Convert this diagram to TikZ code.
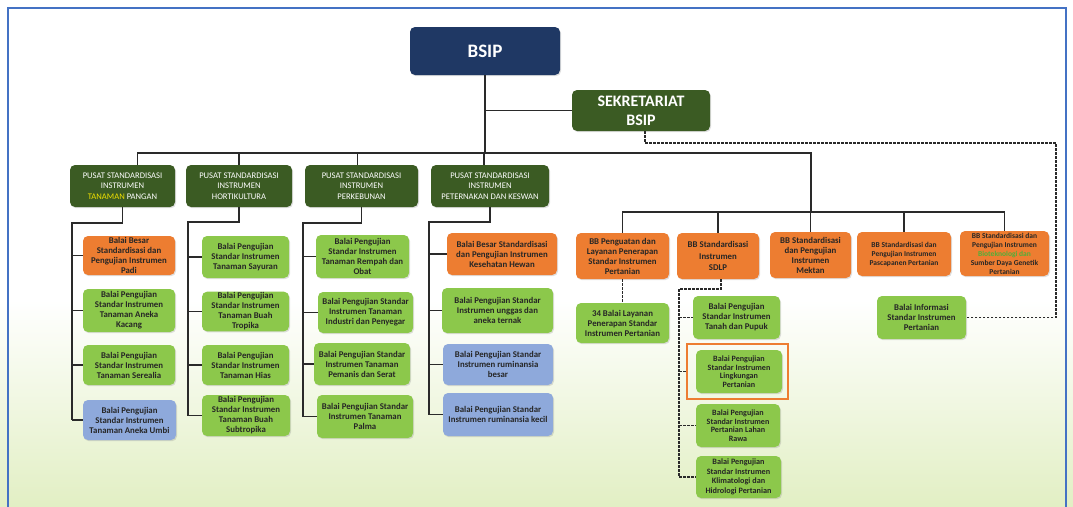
\documentclass[tikz,border=0pt]{standalone}
\usepackage{fontspec}
\setmainfont{Carlito}
\usetikzlibrary{shadows}
\definecolor{navy}{HTML}{1F3864}
\definecolor{dkgreen}{HTML}{3B5B23}
\definecolor{orng}{HTML}{ED7D31}
\definecolor{lgreen}{HTML}{8CC84B}
\definecolor{lblue}{HTML}{8EA9DB}
\definecolor{tyellow}{HTML}{F0E000}
\definecolor{tgreen}{HTML}{4FAF3A}
\definecolor{framecol}{HTML}{4472C4}
\definecolor{bgg}{HTML}{E2EFC4}
\definecolor{linecol}{HTML}{2A2A2A}
\begin{document}
\begin{tikzpicture}[x=1pt,y=-1pt,
  box/.style={rounded corners=5pt, align=center, inner sep=1pt,
    drop shadow={opacity=0.25,shadow xshift=1pt,shadow yshift=-1.2pt}},
  topbox/.style={box, fill=navy, text=white, font=\fontsize{19}{22}\selectfont\bfseries},
  sekbox/.style={box, fill=dkgreen, text=white, font=\fontsize{16}{19}\selectfont\bfseries},
  pusat/.style={box, fill=dkgreen, text=white, font=\fontsize{8.6}{10.5}\selectfont},
  child/.style={box, fill=lgreen, text=black!85, font=\fontsize{8.8}{10}\selectfont\bfseries},
  childo/.style={child, fill=orng},
  childb/.style={child, fill=lblue},
  smallt/.style={font=\fontsize{7.5}{9}\selectfont\bfseries},
  tightt/.style={font=\fontsize{8.1}{8.6}\selectfont\bfseries},
  conn/.style={draw=linecol, line width=1.2pt},
  dconn/.style={draw=linecol, line width=1.2pt, dash pattern=on 2.5pt off 1.5pt},
  frame/.style={draw=framecol, line width=1.5pt},
  highlight/.style={draw=orng, line width=2.6pt}
]
\useasboundingbox (0,0) rectangle (1073,506);
\fill[white] (0,0) rectangle (1073,506);
\shade[top color=white, bottom color=bgg] (0,300) rectangle (1073,506);
\draw[frame] (8,510) -- (8,8) -- (1066,8) -- (1066,510);

% top level
\node[topbox, minimum width=150pt, minimum height=48pt] (bsip) at (485,51) {BSIP};
\node[sekbox, minimum width=138pt, minimum height=41pt] (sekr) at (641,110.5) {SEKRETARIAT\\BSIP};

% pusat boxes
\node[pusat, minimum width=105pt, minimum height=42pt] (p1) at (122.5,186) {PUSAT STANDARDISASI\\INSTRUMEN\\{\color{tyellow}TANAMAN} PANGAN};
\node[pusat, minimum width=106pt, minimum height=42pt] (p2) at (239,186) {PUSAT STANDARDISASI\\INSTRUMEN\\HORTIKULTURA};
\node[pusat, minimum width=113pt, minimum height=42pt] (p3) at (361.5,186) {PUSAT STANDARDISASI\\INSTRUMEN\\PERKEBUNAN};
\node[pusat, minimum width=118pt, minimum height=42pt] (p4) at (490,186) {PUSAT STANDARDISASI\\INSTRUMEN\\PETERNAKAN DAN KESWAN};

% children of p1
\node[childo, minimum width=92pt, minimum height=39pt] (c11) at (129,255.5) {Balai Besar\\Standardisasi dan\\Pengujian Instrumen\\Padi};
\node[child, minimum width=92pt, minimum height=43pt] (c12) at (129,310.5) {Balai Pengujian\\Standar Instrumen\\Tanaman Aneka\\Kacang};
\node[child, minimum width=92pt, minimum height=40pt] (c13) at (129,365) {Balai Pengujian\\Standar Instrumen\\Tanaman Serealia};
\node[childb, minimum width=93pt, minimum height=40pt] (c14) at (129.5,420) {Balai Pengujian\\Standar Instrumen\\Tanaman Aneka Umbi};

% children of p2
\node[child, minimum width=87pt, minimum height=42pt] (c21) at (245.5,257) {Balai Pengujian\\Standar Instrumen\\Tanaman Sayuran};
\node[child, minimum width=87pt, minimum height=39pt] (c22) at (245.5,311.5) {Balai Pengujian\\Standar Instrumen\\Tanaman Buah\\Tropika};
\node[child, minimum width=87pt, minimum height=40pt] (c23) at (245.5,365) {Balai Pengujian\\Standar Instrumen\\Tanaman Hias};
\node[child, minimum width=88pt, minimum height=41pt] (c24) at (246,415.5) {Balai Pengujian\\Standar Instrumen\\Tanaman Buah\\Subtropika};

% children of p3
\node[child, minimum width=93pt, minimum height=43pt] (c31) at (362.5,256.5) {Balai Pengujian\\Standar Instrumen\\Tanaman Rempah dan\\Obat};
\node[child, minimum width=95pt, minimum height=41pt] (c32) at (365.5,312.5) {Balai Pengujian Standar\\Instrumen Tanaman\\Industri dan Penyegar};
\node[child, minimum width=96pt, minimum height=42pt] (c33) at (362,364) {Balai Pengujian Standar\\Instrumen Tanaman\\Pemanis dan Serat};
\node[child, minimum width=96pt, minimum height=43pt] (c34) at (365,416.5) {Balai Pengujian Standar\\Instrumen Tanaman\\Palma};

% children of p4
\node[childo, minimum width=110pt, minimum height=42pt] (c41) at (502,254) {Balai Besar Standardisasi\\dan Pengujian Instrumen\\Kesehatan Hewan};
\node[child, minimum width=111pt, minimum height=45pt] (c42) at (497.5,310.5) {Balai Pengujian Standar\\Instrumen unggas dan\\aneka ternak};
\node[childb, minimum width=110pt, minimum height=41pt] (c43) at (498,364.5) {Balai Pengujian Standar\\Instrumen ruminansia\\besar};
\node[childb, minimum width=110pt, minimum height=43pt] (c44) at (498,414.5) {Balai Pengujian Standar\\Instrumen ruminansia kecil};

% right orange boxes
\node[childo, minimum width=93pt, minimum height=46pt] (o1) at (622.5,256) {BB Penguatan dan\\Layanan Penerapan\\Standar Instrumen\\Pertanian};
\node[childo, minimum width=82pt, minimum height=46pt, font=\fontsize{8.8}{11.5}\selectfont\bfseries] (o2) at (718,256) {BB Standardisasi\\Instrumen\\SDLP};
\node[childo, minimum width=81pt, minimum height=46pt] (o3) at (810.5,255) {BB Standardisasi\\dan Pengujian\\Instrumen\\Mektan};
\node[childo, smallt, minimum width=94pt, minimum height=44pt] (o4) at (904,254) {BB Standardisasi dan\\Pengujian Instrumen\\Pascapanen Pertanian};
\node[childo, smallt, minimum width=89pt, minimum height=45pt] (o5) at (1004.5,253.5) {BB Standardisasi dan\\Pengujian Instrumen\\{\color{tgreen}Bioteknologi dan}\\Sumber Daya Genetik\\Pertanian};

% right children
\node[child, minimum width=93pt, minimum height=40pt] (g1) at (622.5,323) {34 Balai Layanan\\Penerapan Standar\\Instrumen Pertanian};
\node[child, minimum width=87pt, minimum height=43pt] (s1) at (736.5,317.5) {Balai Pengujian\\Standar Instrumen\\Tanah dan Pupuk};
\node[child, tightt, minimum width=86pt, minimum height=43pt] (s2) at (739,371.5) {Balai Pengujian\\Standar Instrumen\\Lingkungan\\Pertanian};
\node[child, tightt, minimum width=84pt, minimum height=43pt] (s3) at (738,425.5) {Balai Pengujian\\Standar Instrumen\\Pertanian Lahan\\Rawa};
\node[child, font=\fontsize{8.2}{9.5}\selectfont\bfseries, minimum width=85pt, minimum height=42pt] (s4) at (738.5,477) {Balai Pengujian\\Standar Instrumen\\Klimatologi dan\\Hidrologi Pertanian};
\node[child, minimum width=89pt, minimum height=43pt] (bi) at (921.5,317.5) {Balai Informasi\\Standar Instrumen\\Pertanian};

% highlight frame around s2
\node[highlight, minimum width=101pt, minimum height=55pt, inner sep=0pt] (hl) at (737.5,371.5) {};

% coordinates for buses and spines
\coordinate (hub) at (811,153);
\coordinate (bus2) at (0,212);
\coordinate (sp1) at (72,223);
\coordinate (sp2) at (188,222);
\coordinate (sp3) at (303,223);
\coordinate (sp4) at (429,222);
\coordinate (sd) at (679,289);
\coordinate (dtop) at (0,143);
\coordinate (dright) at (1056,0);

% solid connectors top
\draw[conn] (bsip.south) -- (bsip.south |- hub);
\draw[conn] (bsip.south |- sekr.west) -- (sekr.west);
\draw[conn] ([xshift=15pt]p1.north) -- ([xshift=15pt]p1.north |- hub) -- (hub) -- (hub |- bus2);
\draw[conn] (p2.north) -- (p2.north |- hub);
\draw[conn] ([xshift=-4pt]p3.north) -- ([xshift=-4pt]p3.north |- hub);
\draw[conn] ([xshift=-6pt]p4.north) -- ([xshift=-6pt]p4.north |- hub);
\draw[conn] (o1.north) -- (o1.north |- bus2) -- (o5.north |- bus2) -- (o5.north);
\foreach \o in {o2,o3,o4} \draw[conn] (\o.north) -- (\o.north |- bus2);

% spines
\draw[conn] (p1.south) |- (sp1) -- (sp1 |- c14.west);
\foreach \c in {c11,c12,c13,c14} \draw[conn] (sp1 |- \c.west) -- (\c.west);
\draw[conn] (p2.south) |- (sp2) -- (sp2 |- c24.west);
\foreach \c in {c21,c22,c23,c24} \draw[conn] (sp2 |- \c.west) -- (\c.west);
\draw[conn] (p3.south) |- (sp3) -- (sp3 |- c34.west);
\foreach \c in {c31,c32,c33,c34} \draw[conn] (sp3 |- \c.west) -- (\c.west);
\draw[conn] (p4.south) |- (sp4) -- (sp4 |- c44.west);
\foreach \c in {c41,c42,c43,c44} \draw[conn] (sp4 |- \c.west) -- (\c.west);

% dashed connectors
\draw[dconn] (o1.south) -- (g1.north);
\draw[dconn] ([xshift=3pt]o2.south) |- (sd) -- (sd |- s4.west);
\draw[dconn] (sd |- s1.west) -- (s1.west);
\draw[dconn] (sd |- s2.west) -- (hl.west);
\draw[dconn] (sd |- s3.west) -- (s3.west);
\draw[dconn] (sd |- s4.west) -- (s4.west);
\draw[dconn] ([xshift=4pt]sekr.south) -- ([xshift=4pt]sekr.south |- dtop) -- (dright |- dtop) -- (dright |- bi.east) -- (bi.east);
\end{tikzpicture}
\end{document}
